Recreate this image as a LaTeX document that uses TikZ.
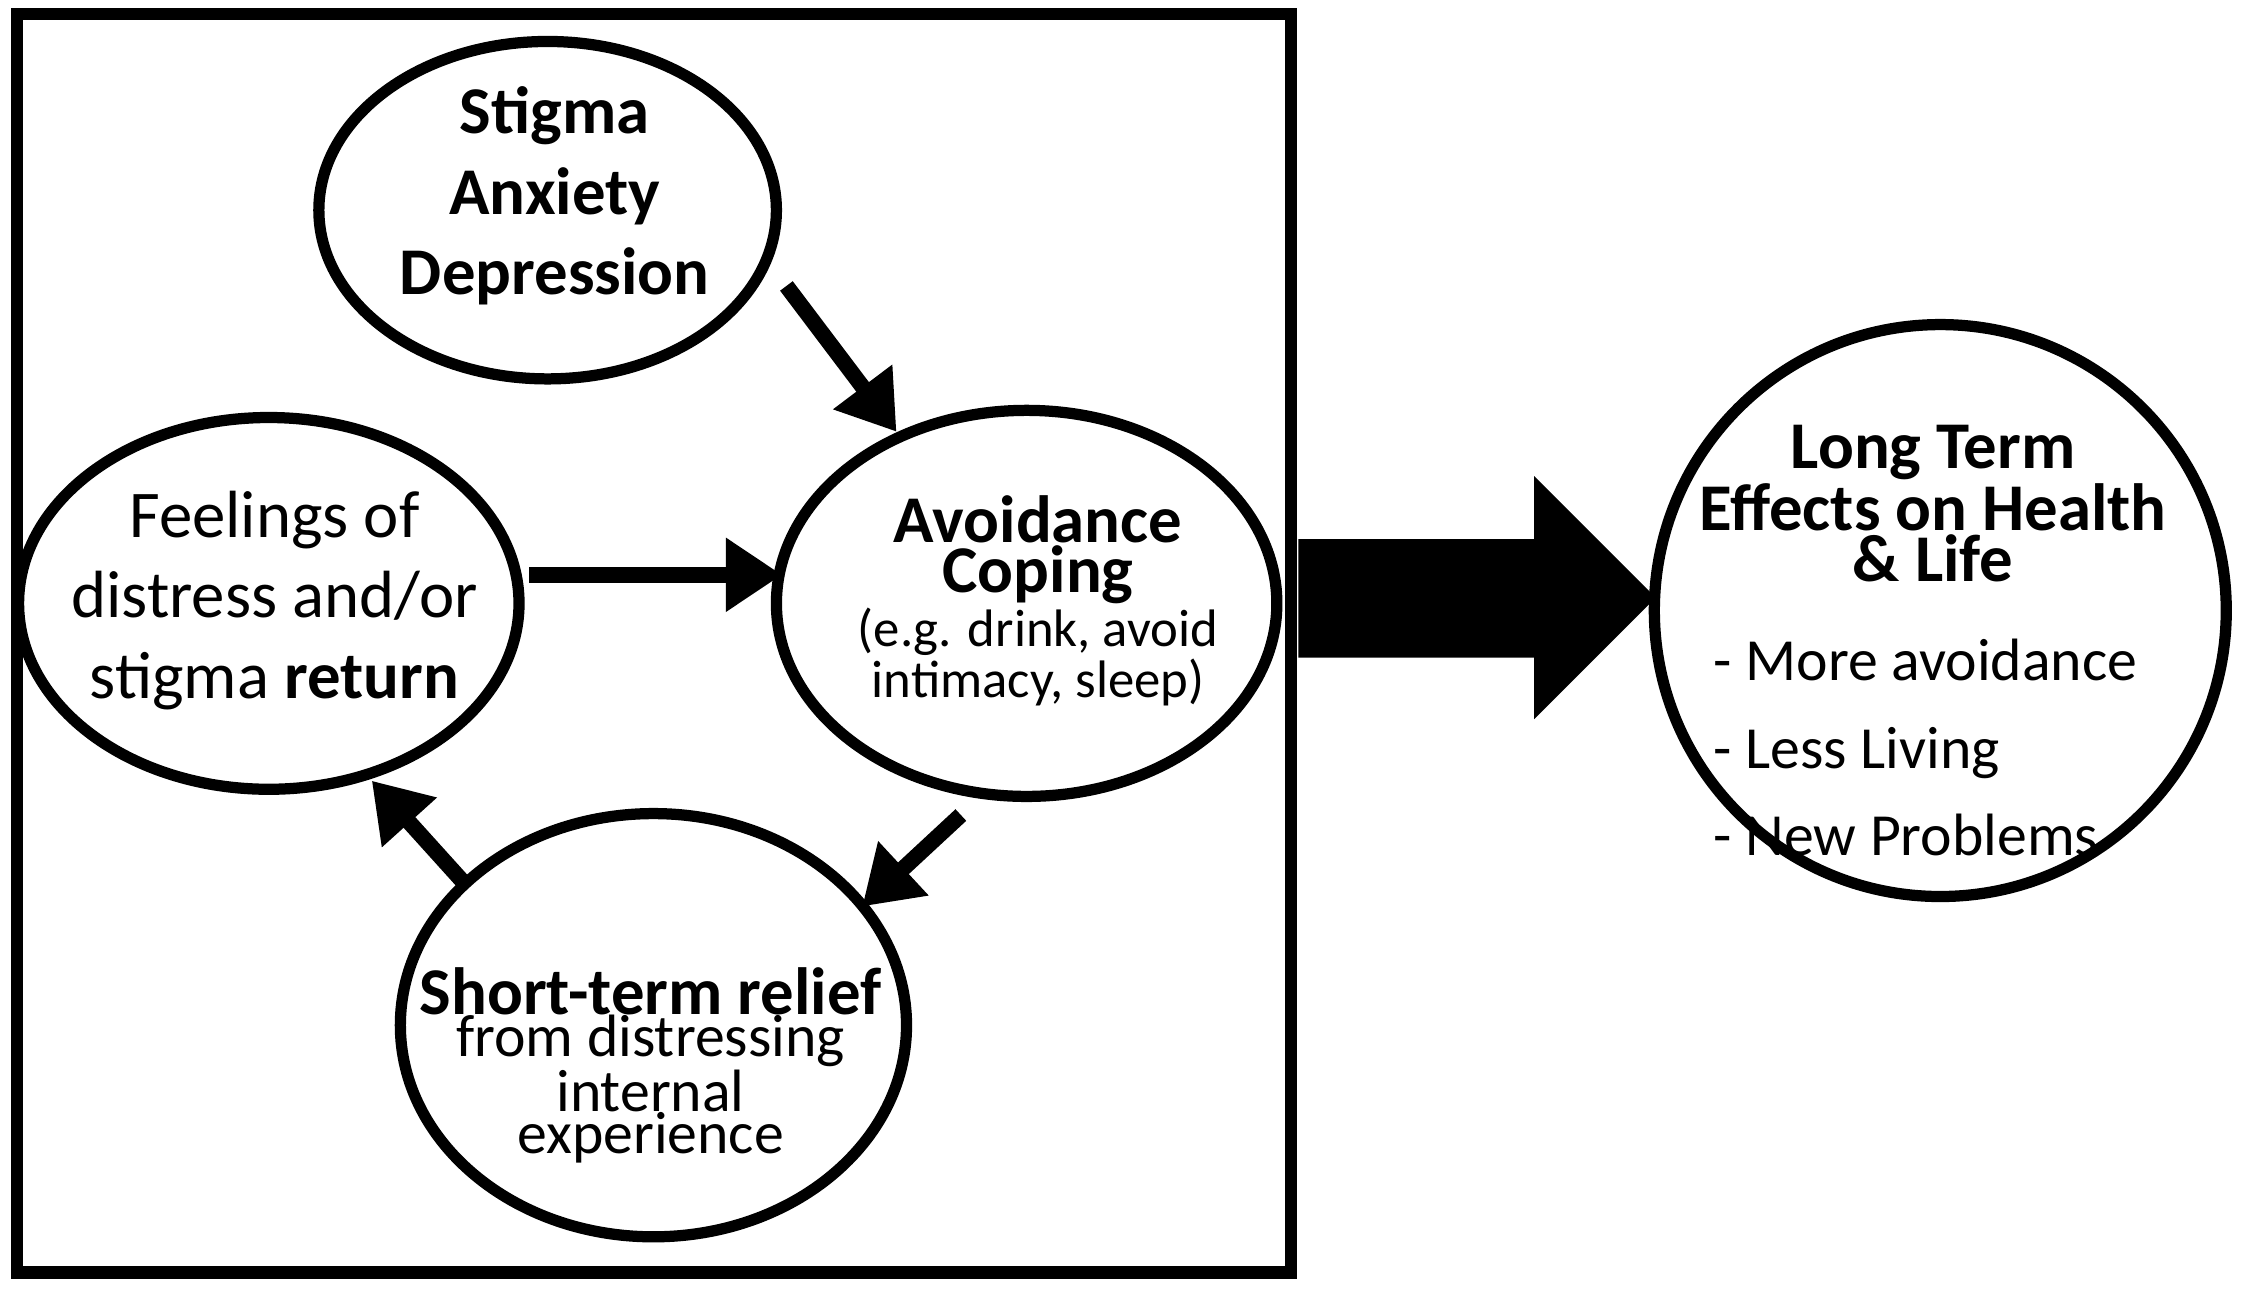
\documentclass[tikz,border=0pt]{standalone}
\usepackage{fontspec}
\setmainfont{Carlito}
\usetikzlibrary{arrows.meta}
\newcommand{\bigf}{\fontsize{19}{26}\selectfont}
\newcommand{\smf}{\fontsize{15}{21}\selectfont}
\newcommand{\mdf}{\fontsize{17}{24}\selectfont}
\begin{document}
\begin{tikzpicture}[x=0.0143cm,y=-0.0143cm,
 el/.style={draw,line width=3.2pt},
 ar/.style={line width=4.5pt,-{Triangle[length=16pt,width=20pt]}},
 big/.style={font=\fontsize{19}{23}\selectfont,align=center}]
\useasboundingbox (0,0) rectangle (1568,902);
\draw[line width=3.5pt] (12,10) rectangle (903,890);
\draw[el] (383,147) ellipse [x radius=160,y radius=118];
\node[big] (st) at (388,137) {\textbf{Stigma}\\\textbf{Anxiety}\\\textbf{Depression}};
\draw[el] (188,422) ellipse [x radius=175,y radius=130];
\node[big] (fe) at (192,420) {Feelings of\\distress and/or\\stigma \textbf{return}};
\draw[el] (718,422) ellipse [x radius=175,y radius=135];
\node[align=center] (av) at (726,420) {\bigf\textbf{Avoidance}\\\bigf\textbf{Coping}\\\smf(e.g. drink, avoid\\\smf intimacy, sleep)};
\draw[el] (457,717) ellipse [x radius=177,y radius=148];
\node[align=center] (sh) at (455,745) {\bigf\textbf{Short-term relief}\\\mdf from distressing\\\mdf internal\\\mdf experience};
\draw[el] (1357,427) circle [radius=200];
\node[align=center] (lt) at (1352,352) {\bigf\textbf{Long Term}\\\bigf\textbf{Effects on Health}\\\bigf\textbf{\& Life}};
\node[align=left,anchor=north west,font=\fontsize{17}{25}\selectfont] (li) at (1190,438) {- More avoidance\\- Less Living\\- New Problems};
\coordinate (a1) at (550,200); \coordinate (a2) at (627,302);
\coordinate (b1) at (370,402); \coordinate (b2) at (547,402);
\coordinate (c1) at (672,570); \coordinate (c2) at (603,634);
\coordinate (d1) at (325,618); \coordinate (d2) at (260,546);
\draw[ar] (a1) -- (a2);
\draw[ar] (b1) -- (b2);
\draw[ar] (c1) -- (c2);
\draw[ar] (d1) -- (d2);
\fill (908,377) -- (1073,377) -- (1073,333) -- (1158,418) -- (1073,503) -- (1073,460) -- (908,460) -- cycle;
\end{tikzpicture}
\end{document}
